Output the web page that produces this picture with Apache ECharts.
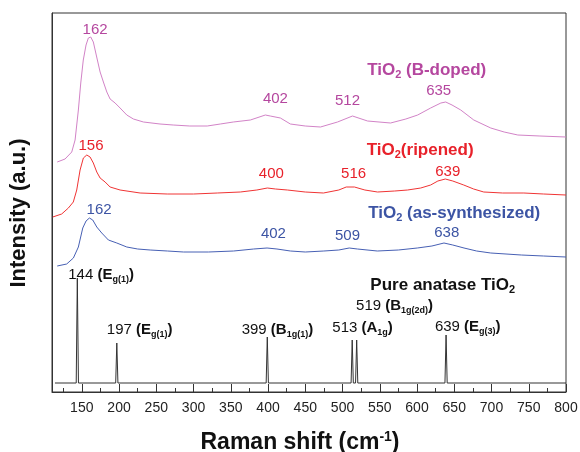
<!DOCTYPE html>
<html>
<head>
<meta charset="utf-8">
<script src="https://cdn.jsdelivr.net/npm/echarts@6.0.0/dist/echarts.min.js"></script>
<style>
html, body { margin: 0; padding: 0; background: #fff; }
#chart { width: 580px; height: 452px; }
</style>
</head>
<body>
<div id="chart"></div>
<script>
// Raman spectra: [shift (cm-1), intensity (a.u., offset)]
var dopedSpectrum = [
  [117, 230], [127.5, 233], [136.5, 240], [141, 252], [145.4, 282], [148.6, 309], [152, 332],
  [155.7, 347], [158.8, 354], [162, 355], [165.5, 350], [170, 335], [174.6, 320], [179, 310],
  [183.6, 300], [188, 293], [194.7, 289], [201.4, 284], [210.4, 277], [219.3, 273], [232.8, 270],
  [255, 268], [272.7, 267], [295, 266], [318.4, 266], [336, 268], [353.4, 270], [376.3, 272],
  [396.4, 277], [403, 276], [416.6, 274], [430, 268], [450, 266], [470.4, 265], [493.3, 270],
  [513.4, 276], [533.6, 271], [564.5, 269], [585, 273], [600.9, 277], [618.3, 284], [632, 289],
  [638.5, 290], [647, 287], [658.7, 282], [676.2, 272], [699, 264], [717, 260], [735.3, 257],
  [765, 256], [800, 255]
];
var ripenedSpectrum = [
  [111, 175], [123, 178], [132, 184], [138.6, 190], [143.2, 202], [147.7, 222], [152.1, 234],
  [156.7, 237], [161.1, 235], [165.5, 229], [170.1, 220], [174.6, 214], [181.3, 210], [188, 205],
  [201.4, 202], [228.3, 199], [264.7, 198], [300, 198], [331.9, 199], [362.8, 200], [385, 202],
  [399.1, 204], [410, 203], [426, 202], [450, 200], [474.4, 199], [495, 202], [505, 205],
  [516, 205], [530, 202], [547, 200], [570, 201], [587.4, 202], [605, 204], [618.3, 207],
  [628, 211], [638, 213], [648, 211], [662.7, 207], [676, 203], [689.6, 200], [715, 199],
  [743.4, 199], [770, 198], [800, 197]
];
var synthSpectrum = [
  [117, 126], [129.7, 128], [138.7, 134], [145.4, 145], [151.3, 164], [155.7, 171], [160.2, 174],
  [164.7, 172], [170.1, 165], [176.8, 159], [185.7, 152], [197, 149], [210.4, 145], [225, 143],
  [241.8, 142], [265, 141], [286.6, 140], [320, 140], [353.8, 141], [380.7, 143], [398.7, 144],
  [412, 143], [430, 141], [450, 140], [474.9, 141], [495, 142], [509, 144], [520, 143],
  [546.7, 141], [575, 142], [600.4, 144], [620, 146], [636.2, 149], [648, 147], [663.1, 144],
  [680, 141], [699, 139], [740, 137], [770, 136], [800, 135]
];

// pure anatase reference lines
var anataseBaseline = 9;
var anataseLines = [144, 197, 399, 513, 519, 639];
var anataseTops = [114, 49, 55, 52, 52, 57];
var anataseModes = [['E', 'g(1)'], ['E', 'g(1)'], ['B', '1g(1)'], ['A', '1g'], ['B', '1g(2d)'], ['E', 'g(3)']];

// peak labels
var dopedPeaks = ['162', '402', '512', '635'];
var ripenedPeaks = ['156', '400', '516', '639'];
var synthPeaks = ['162', '402', '509', '638'];

// x axis ticks
var xTicks = [150, 200, 250, 300, 350, 400, 450, 500, 550, 600, 650, 700, 750, 800];
var xMinorTicks = [125, 175, 225, 275, 325, 375, 425, 475, 525, 575, 625, 675, 725, 775];

// where the labels sit, in data coordinates
var dopedPeakAt = [[167.8, 362], [409.9, 293], [506.7, 291], [629.1, 301]];
var ripenedPeakAt = [[162.4, 246], [404.5, 218], [514.8, 218], [641.2, 220]];
var synthPeakAt = [[173.2, 182], [407.2, 158], [506.7, 156], [639.9, 159]];
var modeAt = [[175.9, 117], [227.7, 62], [412.6, 62], [526.9, 64], [569.9, 86], [668.1, 65]];

var FONT = '"Liberation Sans", Arial, Helvetica, sans-serif';
var colors = {
  doped: '#d283c7', dopedText: '#b5479f',
  ripened: '#f03434', ripenedText: '#e8212a',
  synth: '#4760b4', synthText: '#3c54a4',
  ref: '#333'
};

var chart = echarts.init(document.getElementById('chart'));

function stickData() {
  var d = [[114, anataseBaseline]];
  for (var i = 0; i < anataseLines.length; i++) {
    d.push([anataseLines[i] - 1.5, anataseBaseline]);
    d.push([anataseLines[i], anataseTops[i]]);
    d.push([anataseLines[i] + 1.5, anataseBaseline]);
  }
  d.push([800, anataseBaseline]);
  return d;
}

function labelSeries(texts, at, color) {
  var data = [];
  for (var i = 0; i < texts.length; i++) {
    data.push({ value: at[i], label: { formatter: texts[i] } });
  }
  return {
    type: 'scatter',
    silent: true,
    symbolSize: 1,
    itemStyle: { color: 'transparent', opacity: 1 },
    label: {
      show: true, position: 'inside', align: 'center', verticalAlign: 'middle',
      color: color, fontSize: 15, fontFamily: FONT
    },
    data: data,
    z: 5
  };
}

function titleSeries(text, at, color) {
  return {
    type: 'scatter',
    silent: true,
    symbolSize: 1,
    itemStyle: { color: 'transparent', opacity: 1 },
    label: {
      show: true, position: 'inside', align: 'center', verticalAlign: 'middle',
      formatter: text,
      rich: {
        b: { color: color, fontSize: 17, fontWeight: 'bold', fontFamily: FONT },
        s: { color: color, fontSize: 11, fontWeight: 'bold', fontFamily: FONT, padding: [9, 0, 0, 0] }
      }
    },
    data: [at],
    z: 5
  };
}

var modeTexts = anataseLines.map(function (x, i) {
  return '{n|' + x + ' }{b|(' + anataseModes[i][0] + '}{s|' + anataseModes[i][1] + '}{b|)}';
});
var modeSeries = labelSeries(modeTexts, modeAt, '#111');
modeSeries.label.rich = {
  n: { color: '#111', fontSize: 15, fontFamily: FONT },
  b: { color: '#111', fontSize: 15, fontWeight: 'bold', fontFamily: FONT },
  s: { color: '#111', fontSize: 9, fontWeight: 'bold', fontFamily: FONT, padding: [9, 0, 0, 0] }
};

chart.setOption({
  backgroundColor: '#fff',
  animation: false,
  grid: {
    left: 52, right: 14, top: 13, bottom: 60,
    show: true, borderColor: '#333', borderWidth: 1,
    outerBoundsMode: 'none'
  },
  xAxis: [{
    type: 'value', min: 110, max: 800, position: 'bottom',
    axisLine: { show: true, lineStyle: { color: '#333', width: 1 } },
    axisTick: { show: true, inside: true, length: 8, customValues: xTicks, lineStyle: { color: '#333' } },
    axisLabel: { show: true, customValues: xTicks, margin: 9, fontSize: 14, color: '#222', fontFamily: FONT },
    splitLine: { show: false },
    name: '{t|Raman shift (cm}{sup|-1}{t|)}',
    nameLocation: 'middle',
    nameGap: 38,
    nameTextStyle: {
      padding: [0, 18, 0, 0],
      rich: {
        t: { fontSize: 23, fontWeight: 'bold', color: '#111', fontFamily: FONT },
        sup: { fontSize: 14, fontWeight: 'bold', color: '#111', fontFamily: FONT, padding: [0, 0, 12, 0] }
      }
    }
  }, {
    type: 'value', min: 110, max: 800, position: 'bottom',
    axisLine: { show: false },
    axisTick: { show: true, inside: true, length: 4, customValues: xMinorTicks, lineStyle: { color: '#333' } },
    axisLabel: { show: false },
    splitLine: { show: false }
  }],
  yAxis: {
    type: 'value', min: 0, max: 379,
    axisLine: { show: true, lineStyle: { color: '#333', width: 1 } },
    axisTick: { show: false },
    axisLabel: { show: false },
    splitLine: { show: false }
  },
  graphic: [{
    type: 'text', x: 19, y: 213, rotation: Math.PI / 2,
    style: {
      text: 'Intensity (a.u.)', align: 'center', verticalAlign: 'middle',
      font: 'bold 22px ' + FONT, fill: '#111'
    }
  }],
  series: [
    { name: 'B-doped', type: 'line', showSymbol: false, silent: true, data: dopedSpectrum,
      lineStyle: { color: colors.doped, width: 1 } },
    { name: 'ripened', type: 'line', showSymbol: false, silent: true, data: ripenedSpectrum,
      lineStyle: { color: colors.ripened, width: 1 } },
    { name: 'as-synthesized', type: 'line', showSymbol: false, silent: true, data: synthSpectrum,
      lineStyle: { color: colors.synth, width: 1 } },
    { name: 'anatase', type: 'line', showSymbol: false, silent: true, data: stickData(),
      lineStyle: { color: colors.ref, width: 1 } },
    labelSeries(dopedPeaks, dopedPeakAt, colors.dopedText),
    labelSeries(ripenedPeaks, ripenedPeakAt, colors.ripenedText),
    labelSeries(synthPeaks, synthPeakAt, colors.synthText),
    titleSeries('{b|TiO}{s|2}{b| (B-doped)}', [613, 322], colors.dopedText),
    titleSeries('{b|TiO}{s|2}{b|(ripened)}', [604.2, 242], colors.ripenedText),
    titleSeries('{b|TiO}{s|2}{b| (as-synthesized)}', [649.9, 179], colors.synthText),
    titleSeries('{b|Pure anatase TiO}{s|2}', [634.5, 107], '#111'),
    modeSeries
  ]
});
</script>
</body>
</html>
